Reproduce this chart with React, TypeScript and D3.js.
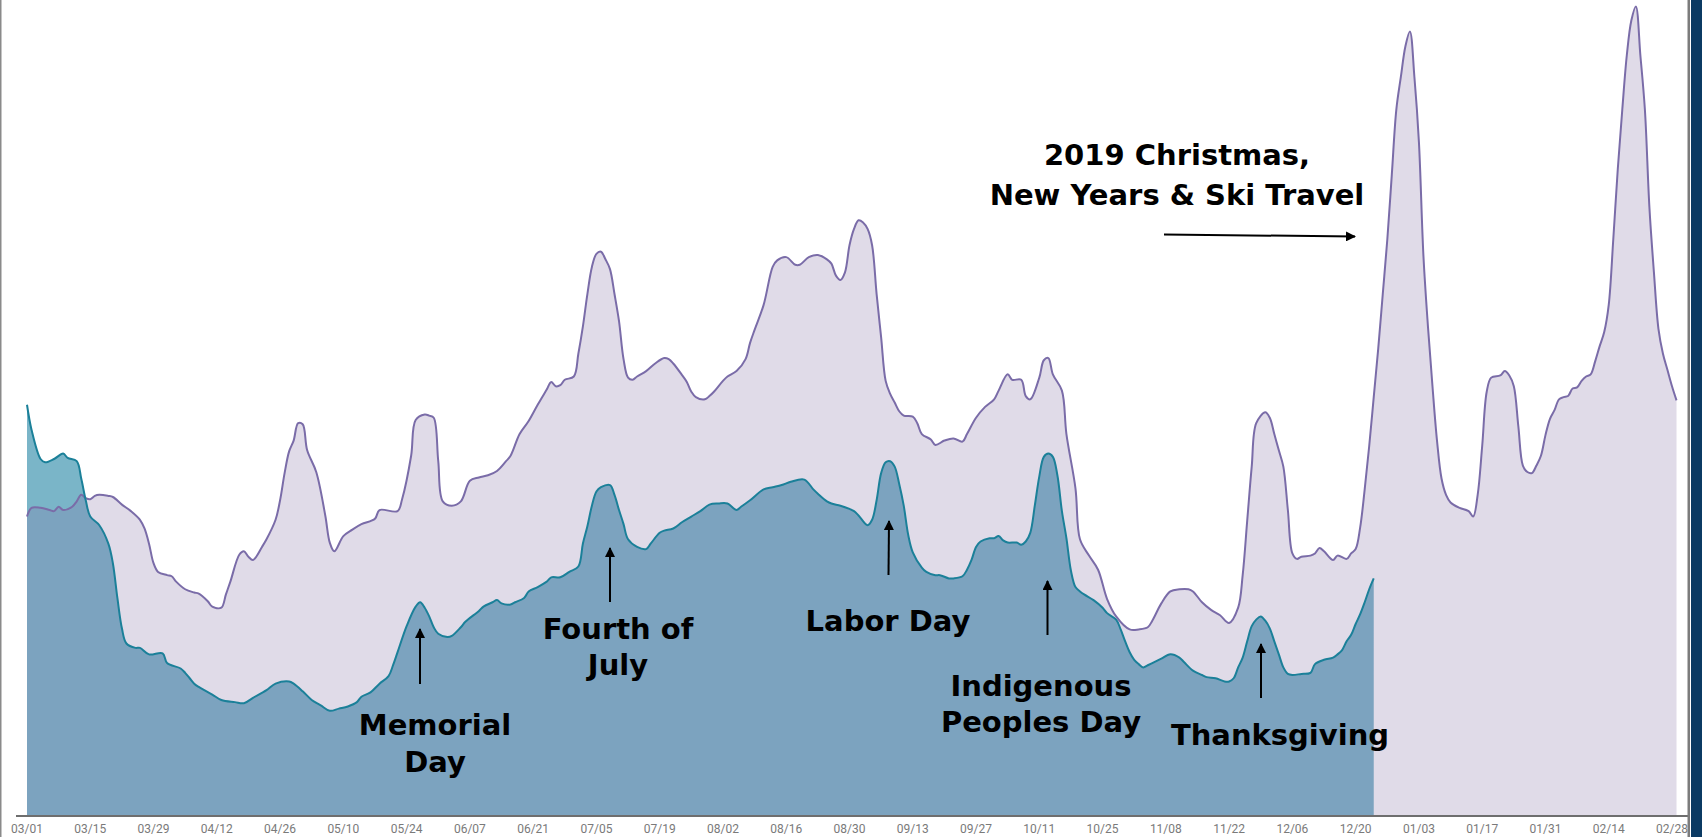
import React from "react";
import * as d3 from "d3";

// ---- data (day offset from 03/01, index value) ----
const SERIES_2019: [number, number][] = [
  [0,275],[1,283],[3,283],[5,281],[6,280],[7,284],[8,281],[10,284],[11,289],[12,295],[13,292],[14,291],[15,294],[16,295],[18,294],[19,293],[21,286],[23,280],[25,272],[26,264],[27,250],[28,232],[29,224],[31,221],[32,220],[33,215],[35,208],[37,205],[38,204],[40,197],[41,192],[43,191],[44,203],[45,215],[47,240],[48,243],[49,238],[50,235],[52,247],[53,254],[55,272],[56,290],[57,315],[58,335],[59,345],[60,361],[61,360],[62,336],[64,316],[66,276],[67,251],[68,243],[70,257],[72,263],[74,268],[77,273],[78,281],[82,280],[83,291],[85,331],[86,364],[88,369],[89,368],[90,366],[91,326],[92,289],[94,285],[96,289],[98,308],[100,311],[102,313],[104,317],[106,326],[107,331],[109,351],[111,363],[113,378],[115,392],[116,399],[117,395],[118,396],[119,401],[121,404],[122,425],[123,450],[124,480],[125,505],[126,517],[127,519],[128,512],[129,503],[130,480],[131,455],[132,420],[133,403],[134,401],[135,404],[137,409],[139,416],[141,421],[142,420],[143,416],[145,405],[146,399],[147,390],[148,385],[150,383],[151,386],[152,390],[154,400],[155,404],[157,409],[159,420],[160,435],[161,447],[163,470],[165,505],[166,511],[168,514],[170,507],[171,507],[173,514],[175,516],[177,512],[178,508],[179,497],[180,493],[181,500],[182,525],[183,540],[184,548],[185,546],[186,540],[187,525],[188,480],[189,440],[190,400],[191,388],[192,380],[193,372],[194,368],[196,367],[197,361],[198,351],[200,346],[201,341],[203,345],[205,347],[207,344],[208,351],[210,366],[212,376],[214,383],[215,391],[217,406],[218,401],[220,401],[221,386],[222,383],[224,403],[225,419],[226,421],[227,406],[229,391],[230,351],[232,301],[233,254],[235,239],[237,226],[239,199],[241,183],[244,171],[246,171],[248,173],[249,179],[251,195],[253,206],[255,208],[257,208],[258,206],[260,196],[262,189],[264,184],[266,177],[268,191],[269,221],[270,271],[271,321],[272,361],[274,371],[275,366],[276,351],[277,336],[278,321],[279,281],[280,241],[281,236],[282,238],[284,239],[285,241],[286,246],[287,243],[289,235],[290,239],[292,236],[293,241],[294,245],[295,265],[296,300],[297,340],[298,385],[299,430],[300,480],[301,530],[302,590],[303,650],[304,680],[305,708],[306,722],[307,680],[308,620],[309,515],[310,450],[311,395],[312,345],[313,310],[314,295],[315,288],[317,283],[319,280],[320,275],[321,295],[322,340],[323,390],[324,403],[326,405],[327,409],[328,405],[329,395],[330,358],[331,322],[332,316],[333,315],[334,322],[335,331],[336,350],[337,365],[338,373],[339,383],[340,385],[341,386],[342,393],[343,394],[344,400],[345,404],[346,406],[347,418],[348,432],[349,445],[350,470],[351,530],[352,595],[353,650],[354,700],[355,732],[356,745],[357,700],[358,650],[359,560],[360,500],[361,448],[362,425],[363,410],[364,395],[365,382]
];

const SERIES_2020: [number, number][] = [
  [0,378],[1,355],[3,328],[4,325],[6,328],[8,333],[9,329],[11,326],[12,310],[13,290],[14,275],[16,267],[18,250],[19,232],[20,200],[21,172],[22,158],[24,154],[25,154],[27,148],[30,149],[31,140],[34,135],[35,131],[36,126],[37,121],[38,118],[41,111],[43,106],[46,104],[48,103],[50,108],[53,115],[55,121],[58,123],[59,121],[61,114],[63,106],[65,101],[67,96],[69,98],[71,100],[73,104],[74,109],[76,113],[78,121],[80,128],[81,138],[82,150],[84,174],[86,192],[87,196],[88,191],[89,183],[90,173],[91,167],[93,164],[94,165],[96,173],[97,178],[100,188],[101,192],[103,196],[104,198],[105,195],[107,194],[108,196],[110,200],[111,206],[113,210],[115,215],[116,219],[118,219],[120,224],[122,229],[123,250],[124,266],[125,285],[126,298],[127,302],[129,304],[130,295],[131,281],[132,268],[133,254],[135,247],[137,245],[138,250],[140,260],[141,262],[143,264],[145,270],[147,275],[149,280],[151,286],[153,287],[155,287],[157,281],[158,284],[160,290],[163,300],[165,302],[167,304],[169,307],[172,309],[174,300],[175,296],[177,289],[178,287],[180,285],[182,282],[183,280],[184,276],[186,267],[187,272],[188,290],[189,315],[190,325],[191,326],[192,321],[193,305],[194,285],[195,258],[196,242],[198,228],[199,224],[201,221],[202,221],[204,218],[205,218],[207,220],[208,226],[209,235],[210,247],[211,252],[213,255],[214,255],[215,257],[216,253],[217,251],[219,251],[220,249],[221,252],[222,260],[223,285],[224,312],[225,330],[226,333],[227,330],[228,313],[229,280],[230,255],[231,225],[232,210],[233,206],[234,203],[236,198],[238,191],[239,186],[241,180],[242,171],[243,160],[244,150],[245,143],[246,139],[247,136],[248,138],[249,140],[250,142],[251,144],[253,148],[255,145],[256,141],[258,133],[260,129],[261,127],[263,126],[265,123],[266,123],[267,126],[268,136],[269,145],[270,160],[271,174],[272,180],[273,183],[274,179],[275,172],[276,160],[277,148],[278,136],[279,130],[280,129],[282,130],[284,131],[285,139],[287,143],[289,145],[290,148],[291,152],[292,160],[293,166],[294,176],[295,185],[296,196],[297,208],[298,218]
];

const TICK_LABELS = ["03/01","03/15","03/29","04/12","04/26","05/10","05/24","06/07","06/21","07/05","07/19","08/02","08/16","08/30","09/13","09/27","10/11","10/25","11/08","11/22","12/06","12/20","01/03","01/17","01/31","02/14","02/28"];
const TICK_STEP_DAYS = 14;

type Annotation = { lines: string[]; cx: number; y0: number; lh: number; arrow: [number, number, number, number] };
const ANNOTATIONS: Annotation[] = [
  { lines: ["2019 Christmas,", "New Years & Ski Travel"], cx: 1177, y0: 165, lh: 40, arrow: [1164, 234.5, 1355, 236.5] },
  { lines: ["Memorial", "Day"], cx: 435, y0: 735, lh: 37, arrow: [420, 684, 420, 629] },
  { lines: ["Fourth of", "July"], cx: 618, y0: 639, lh: 36, arrow: [610, 602, 610, 548] },
  { lines: ["Labor Day"], cx: 888, y0: 631, lh: 36, arrow: [888.5, 575, 889, 521] },
  { lines: ["Indigenous", "Peoples Day"], cx: 1041, y0: 696, lh: 36, arrow: [1047.5, 635, 1047.5, 581] },
  { lines: ["Thanksgiving"], cx: 1280, y0: 745, lh: 36, arrow: [1261, 698, 1261, 644] },
];

const START = new Date(2019, 2, 1);
const dateOf = (d: number) => d3.timeDay.offset(START, d);

export default function App() {
  const W = 1702, H = 837;
  const x = d3.scaleTime().domain([START, dateOf(364)]).range([27, 1672]);
  const y = d3.scaleLinear().domain([0, 750]).range([815, 1]);
  const curve = d3.curveCatmullRom.alpha(0.5);

  const area = d3.area<[number, number]>()
    .x(d => x(dateOf(d[0])))
    .y0(y(0))
    .y1(d => y(d[1]))
    .curve(curve);
  const line = d3.line<[number, number]>()
    .x(d => x(dateOf(d[0])))
    .y(d => y(d[1]))
    .curve(curve);

  const font = "'DejaVu Sans', 'Open Sans', sans-serif";

  return (
    <div style={{ position: "fixed", left: 0, top: 0, width: W, height: H, background: "#fff" }}>
      <svg width={W} height={H} style={{ display: "block" }}>
        <defs>
          <marker id="ah" viewBox="0 0 10 10" refX="9" refY="5" markerWidth="5" markerHeight="5" orient="auto-start-reverse">
            <path d="M0,0 L10,5 L0,10 z" fill="#000" />
          </marker>
        </defs>
        <rect x={0} y={0} width={W} height={H} fill="#fff" />
        <path d={area(SERIES_2020) || ""} fill="#7ab5c8" />
        <path d={area(SERIES_2019) || ""} fill="rgb(131,111,163)" fillOpacity={0.25} />
        <path d={line(SERIES_2019) || ""} fill="none" stroke="#7a6ca8" strokeWidth={2} />
        <path d={line(SERIES_2020) || ""} fill="none" stroke="#1b8099" strokeWidth={2} />

        {/* axis */}
        <line x1={16} x2={1688} y1={816} y2={816} stroke="#6e6e6e" strokeWidth={2} />
        {TICK_LABELS.map((t, i) => (
          <text key={t} x={x(dateOf(i * TICK_STEP_DAYS))} y={833} textAnchor="middle"
            fontFamily="Roboto, sans-serif" fontSize={12} fill="#7a7a7a">{t}</text>
        ))}

        {/* frame */}
        <rect x={0} y={0} width={1.5} height={H} fill="#8a8a8a" />
        <rect x={1687.5} y={0} width={2.5} height={H} fill="#7c7c7c" />
        <rect x={1691} y={0} width={11} height={H} fill="#0b3a63" />

        {/* annotations */}
        {ANNOTATIONS.map((a, i) => (
          <g key={i}>
            {a.lines.map((l, j) => (
              <text key={j} x={a.cx} y={a.y0 + j * a.lh} textAnchor="middle" fontFamily={font}
                fontWeight={700} fontSize={29} fill="#000">{l}</text>
            ))}
            <line x1={a.arrow[0]} y1={a.arrow[1]} x2={a.arrow[2]} y2={a.arrow[3]} stroke="#000" strokeWidth={2} markerEnd="url(#ah)" />
          </g>
        ))}
      </svg>
    </div>
  );
}
